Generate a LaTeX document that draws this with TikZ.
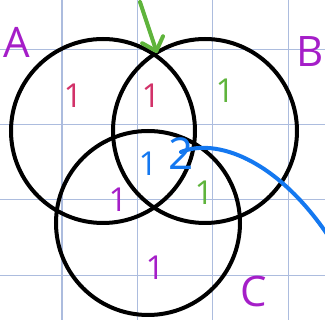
\documentclass[tikz,border=0pt]{standalone}
\usepackage{fontspec}
\setsansfont{Open Sans}
\usetikzlibrary{arrows.meta,positioning}
\definecolor{gridblue}{RGB}{172,188,222}
\definecolor{setpurple}{RGB}{165,30,200}
\definecolor{pencrimson}{RGB}{210,50,105}
\definecolor{pengreen}{RGB}{95,180,60}
\definecolor{penblue}{RGB}{20,120,240}

\begin{document}
\begin{tikzpicture}[x=1pt, y=-1pt,
    setcircle/.style={draw, circle, line width=4pt, minimum size=184pt, inner sep=0pt},
    setname/.style={font=\sffamily\fontsize{42}{42}\selectfont, text=setpurple, inner sep=0pt},
    count/.style={font=\sffamily\fontsize{33}{33}\selectfont, inner sep=0pt}]
    \useasboundingbox (0,0) rectangle (325,320);
    % grid paper
    \foreach \gx in {62,138,213,289} \draw[gridblue, line width=1pt] (\gx,0) -- (\gx,320);
    \foreach \gy in {50,125,200,276} \draw[gridblue, line width=1pt] (0,\gy) -- (325,\gy);

    % the three sets
    \node[setcircle] (setA) at (103,131) {};
    \node[setcircle] (setB) at (205,131) {};
    \node[setcircle] (setC) at (148,223) {};

    \node[setname] (nameA) at (17,42) {A};
    \node[setname] (nameB) at (310,52) {B};
    \node[setname] (nameC) at (254,292) {C};

    % counts in the regions
    \node[count, text=pencrimson] (onlyA) at (73,96) {1};
    \node[count, text=pencrimson] (AB) at (151,96) {1};
    \node[count, text=pengreen] (onlyB) at (225,91) {1};
    \node[count, text=pengreen] (BC) at (204,193) {1};
    \node[count, text=setpurple] (AC) at (118,200) {1};
    \node[count, text=setpurple] (onlyC) at (155,268) {1};
    \node[count, text=penblue] (ABC) at (148,164) {1};
    \node[count, text=penblue, font=\sffamily\fontsize{44}{44}\selectfont] (two) at (181,154) {2};

    \coordinate (arrowstart) at (140,2);
    \coordinate (topmeet) at (157,53);
    \coordinate (twotail) at (181,152);
    \coordinate (rightedge) at (327,234);

    \draw[pengreen, line width=4pt, line cap=round, -{Straight Barb[length=12pt, width=22pt, round]}] (arrowstart) -- (topmeet);
    \draw[penblue, line width=4pt, line cap=round] (twotail) .. controls (215,138) and (275,158) .. (rightedge);
\end{tikzpicture}
\end{document}
